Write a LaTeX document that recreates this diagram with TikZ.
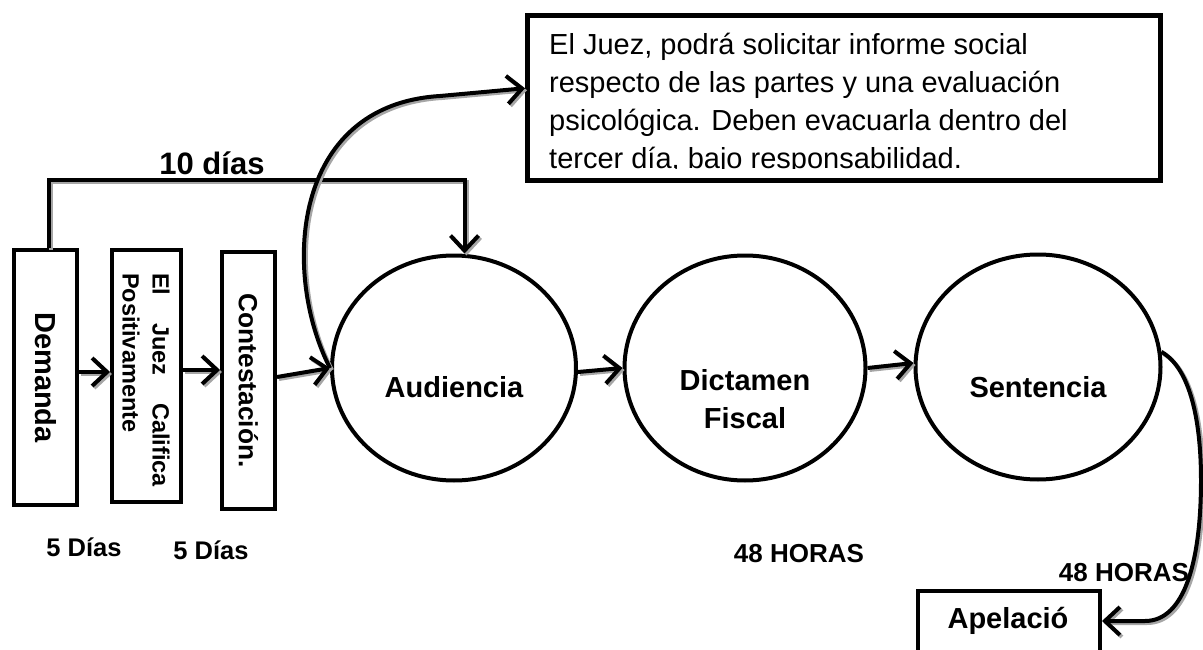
\documentclass[tikz,border=0pt]{standalone}
\usepackage{fontspec}
\setmainfont{Liberation Sans}
\usepackage{graphicx}
\usetikzlibrary{arrows.meta,shapes.geometric,calc}
\begin{document}
\begin{tikzpicture}[x=1pt,y=-1pt,
  bx/.style={draw, line width=4pt, inner sep=0pt, fill=white},
  ell/.style={draw, ellipse, line width=4pt, inner sep=0pt, fill=white},
  big/.style={inner sep=0pt, font=\fontsize{29}{34}\selectfont\bfseries},
  lbl/.style={inner sep=0pt, font=\fontsize{26}{30}\selectfont\bfseries},
  body/.style={inner sep=0pt, font=\fontsize{29}{34}\selectfont},
  conn/.style={line width=4pt, -{Straight Barb[length=15pt,width=28pt]},
    preaction={draw=black!35, line width=4pt, -{Straight Barb[length=15pt,width=28pt]},
      transform canvas={shift={(2pt,-2pt)}}}},
]
\useasboundingbox (0,0) rectangle (1203,650);
\clip (0,0) rectangle (1203,650);

% vertical boxes
\node[bx, minimum width=63pt, minimum height=255pt] (dem) at (45.5,377.5)
  {\rotatebox{-90}{\fontsize{29}{34}\selectfont\bfseries Demanda}};
\node[bx, minimum width=69pt, minimum height=252pt] (juez) at (146.5,376) {};
\node[inner sep=0pt] (juezT) at (146,380)
  {\rotatebox{-90}{\parbox{214pt}{\fontsize{23.5}{30}\selectfont\bfseries El\hfill Juez\hfill Califica\\Positivamente}}};
\node[bx, minimum width=53pt, minimum height=257pt] (con) at (248.5,380.5)
  {\rotatebox{-90}{\fontsize{26.3}{30}\selectfont\bfseries Contestación.}};

% ellipses
\node[ell, minimum width=244pt, minimum height=225pt] (aud) at (454,368) {};
\node[ell, minimum width=241pt, minimum height=225pt] (dic) at (745,368) {};
\node[ell, minimum width=245pt, minimum height=225pt] (sen) at (1038,367) {};
\node[big, anchor=base] (audT) at (454,397) {Audiencia};
\node[big, anchor=base] (dicT1) at (745,390) {Dictamen};
\node[big, anchor=base] (dicT2) at (745,428) {Fiscal};
\node[big, anchor=base] (senT) at (1038,397) {Sentencia};

% text box
\node[bx, line width=5pt, minimum width=632.5pt, minimum height=164.5pt] (tb) at (843.75,98.25) {};
\begin{scope}
  \clip (530,18) rectangle (1157,168.5);
  \node[body, anchor=base west] (l1) at (549,55) {El Juez, podrá solicitar informe social};
  \node[body, anchor=base west] (l2) at (549,92.7) {respecto de las partes y una evaluación};
  \node[body, anchor=base west] (l3) at (549,130.4) {psicológica. Deben evacuarla dentro del};
  \node[body, anchor=base west] (l4) at (549,168) {tercer día, bajo responsabilidad.};
\end{scope}

% Apelacion box
\node[bx, minimum width=182.5pt, minimum height=100pt] (apel) at (1008.75,640.5) {};
\node[big, anchor=base] (apelT) at (1008,628) {Apelació};

% labels
\node[inner sep=0pt, font=\fontsize{31}{36}\selectfont\bfseries, anchor=base] (t10) at (212,175) {10 días};
\node[lbl, font=\fontsize{25.5}{30}\selectfont\bfseries, anchor=base] (d5a) at (84,556) {5 Días};
\node[lbl, font=\fontsize{25.5}{30}\selectfont\bfseries, anchor=base] (d5b) at (211,559) {5 Días};
\node[lbl, anchor=base] (h48a) at (799,562) {48 HORAS};
\node[lbl, anchor=base] (h48b) at (1124,581) {48 HORAS};

% connectors
\draw[conn] ([xshift=3pt]dem.north) -- ++(0,-67.5) -| ([xshift=10.5pt]aud.north);
\draw[conn] ([yshift=5.5pt]dem.east) -- ([yshift=4pt]juez.west);
\draw[conn] ([yshift=6pt]juez.east) -- ([yshift=10.5pt]con.west);
\draw[conn] ([yshift=3.5pt]con.east) -- (aud.west);
\draw[conn] ([yshift=-4pt]aud.east) -- (dic.west);
\draw[conn] (dic.east) -- ([yshift=4pt]sen.west);
\draw[conn] (aud.west) .. controls (282,275) and (290,105) .. (440,96) -- ([yshift=10pt]tb.west);
\draw[conn] (sen.7) .. controls (1190,368) and (1201,420) .. (1201,480)
  .. controls (1201,560) and (1185,621) .. (1145,621) -- ([yshift=-32.5pt]apel.north east);
\end{tikzpicture}
\end{document}
